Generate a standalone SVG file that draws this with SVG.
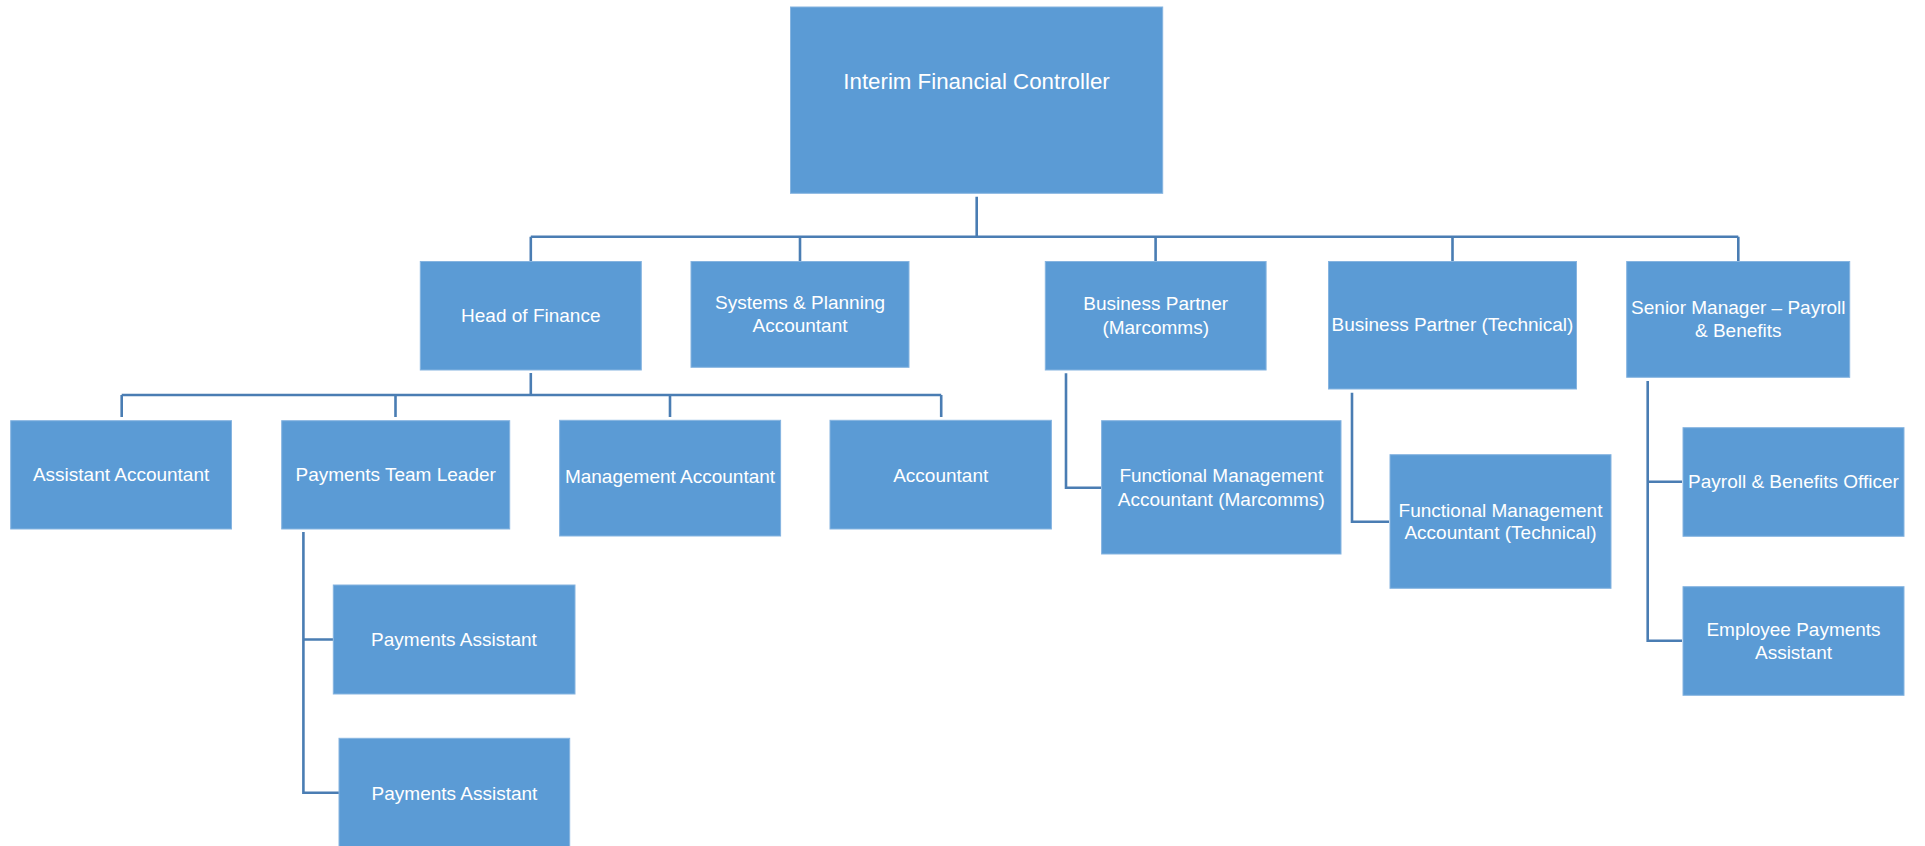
<svg xmlns="http://www.w3.org/2000/svg" width="1925" height="846" viewBox="0 0 1925 846">
<style>
.box{fill:#5b9bd5;stroke:#86b4e0;stroke-width:1}
.t{font-family:"Liberation Sans",Arial,sans-serif;font-size:19px;fill:#ffffff;text-anchor:middle}
.big{font-size:22.3px}
.c{fill:none;stroke:#4a7db3;stroke-width:2.6}
</style>
<rect width="1925" height="846" fill="#ffffff"/>
<g id="connectors">
<path class="c" d="M976.7,196.7 V236.7 M530.8,236.7 H1738.3 M530.8,236.7 V261 M800,236.7 V261 M1155.6,236.7 V261 M1452.5,236.7 V261 M1738.3,236.7 V261"/>
<path class="c" d="M530.8,373 V395 M121.7,395 H941.2 M121.7,395 V417 M395.5,395 V417 M670,395 V417 M941.2,395 V417"/>
<path class="c" d="M303.4,532 V792.7 H339 M303.4,639.5 H333"/>
<path class="c" d="M1066,373.3 V487.7 H1101"/>
<path class="c" d="M1352,392.7 V521.7 H1389"/>
<path class="c" d="M1647.7,381 V640.7 H1682 M1647.7,481.7 H1682"/>
</g>
<g id="n-ifc"><rect class="box" x="790.5" y="7" width="372.2" height="186.3"/><text class="t big" x="976.5" y="89">Interim Financial Controller</text></g>
<g id="n-hof"><rect class="box" x="420.3" y="261.5" width="221" height="108.5"/><text class="t" x="530.8" y="321.7">Head of Finance</text></g>
<g id="n-spa"><rect class="box" x="691" y="261.5" width="218" height="105.8"/><text class="t" x="800" y="309.3">Systems &amp; Planning</text><text class="t" x="800" y="331.7">Accountant</text></g>
<g id="n-bpm"><rect class="box" x="1045.3" y="261.5" width="220.8" height="108.5"/><text class="t" x="1155.7" y="310">Business Partner</text><text class="t" x="1155.7" y="333.5">(Marcomms)</text></g>
<g id="n-bpt"><rect class="box" x="1328.5" y="261.5" width="248" height="127.5"/><text class="t" x="1452.5" y="331">Business Partner (Technical)</text></g>
<g id="n-sm"><rect class="box" x="1626.7" y="261.5" width="223" height="115.8"/><text class="t" x="1738.3" y="314.3">Senior Manager – Payroll</text><text class="t" x="1738.3" y="337.3">&amp; Benefits</text></g>
<g id="n-aa"><rect class="box" x="10.7" y="420.7" width="220.8" height="108.3"/><text class="t" x="121.1" y="480.7">Assistant Accountant</text></g>
<g id="n-ptl"><rect class="box" x="281.7" y="420.7" width="228" height="108.3"/><text class="t" x="395.7" y="480.7">Payments Team Leader</text></g>
<g id="n-ma"><rect class="box" x="559.6" y="420.3" width="221" height="115.7"/><text class="t" x="670" y="483.3">Management Accountant</text></g>
<g id="n-acc"><rect class="box" x="830" y="420.3" width="221.4" height="108.7"/><text class="t" x="940.7" y="481.7">Accountant</text></g>
<g id="n-pa1"><rect class="box" x="333.3" y="585" width="241.7" height="109"/><text class="t" x="454" y="646">Payments Assistant</text></g>
<g id="n-pa2"><rect class="box" x="339" y="738.3" width="230.7" height="110"/><text class="t" x="454.5" y="800">Payments Assistant</text></g>
<g id="n-fmam"><rect class="box" x="1101.6" y="420.7" width="239.4" height="133.3"/><text class="t" x="1221.3" y="482.3">Functional Management</text><text class="t" x="1221.3" y="505.7">Accountant (Marcomms)</text></g>
<g id="n-fmat"><rect class="box" x="1390" y="454.7" width="221" height="133.6"/><text class="t" x="1500.5" y="516.7">Functional Management</text><text class="t" x="1500.5" y="539.3">Accountant (Technical)</text></g>
<g id="n-pbo"><rect class="box" x="1683" y="427.7" width="221" height="108.6"/><text class="t" x="1793.5" y="488.3">Payroll &amp; Benefits Officer</text></g>
<g id="n-epa"><rect class="box" x="1683" y="586.7" width="221" height="108.6"/><text class="t" x="1793.5" y="636">Employee Payments</text><text class="t" x="1793.5" y="659.3">Assistant</text></g>
</svg>
